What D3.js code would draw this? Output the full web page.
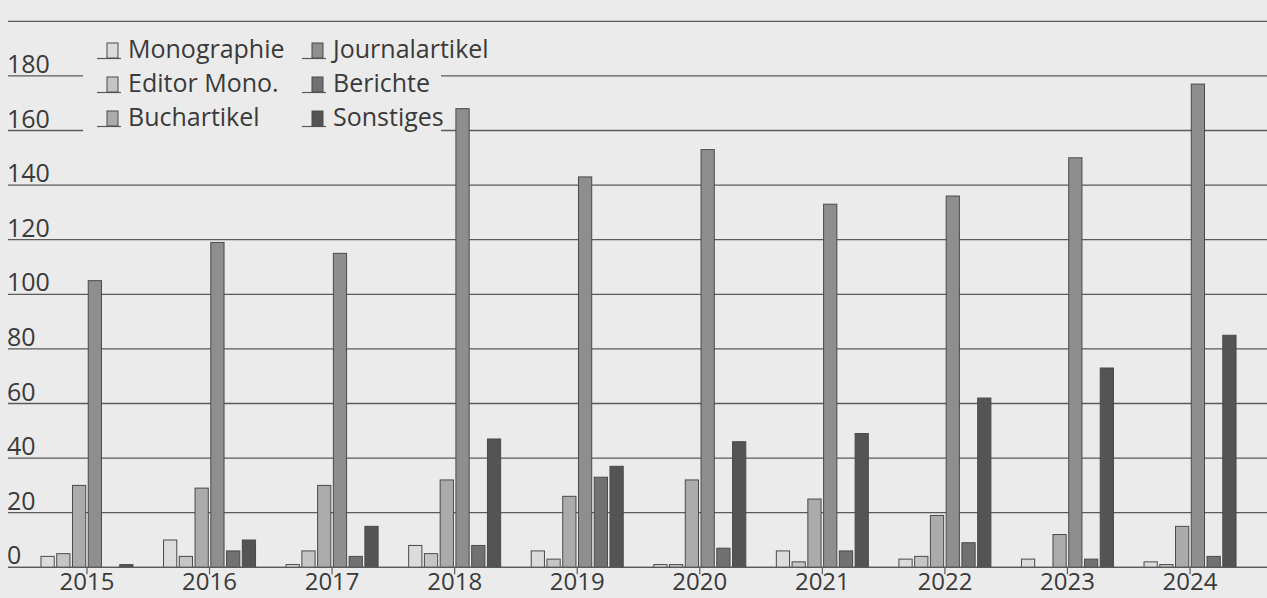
<!DOCTYPE html>
<html>
<head>
<meta charset="utf-8">
<script src="https://cdn.jsdelivr.net/npm/d3@7"></script>
<style>
  body { margin: 0; background: #ebebeb; }
  text { font-family: "Open Sans", sans-serif; fill: #3a3a3a; }
</style>
</head>
<body>
<div id="graphic"></div>
<script>
// Publication counts per year and type
var years = ['2015', '2016', '2017', '2018', '2019', '2020', '2021', '2022', '2023', '2024'];
var seriesNames = ['Monographie', 'Editor Mono.', 'Buchartikel', 'Journalartikel', 'Berichte', 'Sonstiges'];

var monographie = [4, 10, 1, 8, 6, 1, 6, 3, 3, 2];
var editorMono = [5, 4, 6, 5, 3, 1, 2, 4, 0, 1];
var buchartikel = [30, 29, 30, 32, 26, 32, 25, 19, 12, 15];
var journalartikel = [105, 119, 115, 168, 143, 153, 133, 136, 150, 177];
var berichte = [0, 6, 4, 8, 33, 7, 6, 9, 3, 4];
var sonstiges = [1, 10, 15, 47, 37, 46, 49, 62, 73, 85];

var yTicks = [0, 20, 40, 60, 80, 100, 120, 140, 160, 180, 200];
var yLabels = [0, 20, 40, 60, 80, 100, 120, 140, 160, 180];

var seriesValues = [monographie, editorMono, buchartikel, journalartikel, berichte, sonstiges];
var colors = ['#dcdcdc', '#c5c5c5', '#ababab', '#8e8e8e', '#717171', '#545454'];

var svgWidth = 1267;
var svgHeight = 598;

var svg = d3.select("#graphic")
    .append("svg")
    .attr("width", svgWidth)
    .attr("height", svgHeight)
    .style("display", "block");

svg.append("rect")
    .attr("width", svgWidth)
    .attr("height", svgHeight)
    .attr("fill", "#ebebeb");

// scales
var y = d3.scaleLinear().domain([0, 200]).range([567.3, 21.3]);
var x0 = d3.scaleBand().domain(years).range([25.7, 1251.3]).padding(0);
var x1 = d3.scaleBand().domain(seriesNames).range([-46, 46]).paddingInner(0.16);

// gridlines
svg.append("g")
    .selectAll("line")
    .data(yTicks)
    .enter()
    .append("line")
    .attr("x1", 8)
    .attr("x2", svgWidth)
    .attr("y1", function(d) { return y(d); })
    .attr("y2", function(d) { return y(d); })
    .attr("stroke", "#5a5a5a")
    .attr("stroke-width", 1.3);

// y labels sit on top of the lines
svg.append("g")
    .selectAll("text")
    .data(yLabels)
    .enter()
    .append("text")
    .attr("x", 7)
    .attr("y", function(d) { return y(d) - 3; })
    .style("font-size", "25px")
    .text(function(d) { return d; });

// legend box hides the gridlines behind it
var legend = svg.append("g");
legend.append("rect")
    .attr("x", 83)
    .attr("y", 34)
    .attr("width", 358)
    .attr("height", 108)
    .attr("fill", "#ebebeb");

var legendX = [97, 302];
var legendY = [58, 92, 126];

var items = legend.selectAll("g.item")
    .data(seriesNames)
    .enter()
    .append("g")
    .attr("class", "item")
    .attr("transform", function(d, i) {
        return "translate(" + legendX[Math.floor(i / 3)] + "," + legendY[i % 3] + ")";
    });

items.append("line")
    .attr("x1", 0)
    .attr("x2", 24)
    .attr("y1", 0.5)
    .attr("y2", 0.5)
    .attr("stroke", "#5a5a5a")
    .attr("stroke-width", 1.2);

items.append("rect")
    .attr("x", 10)
    .attr("y", -15)
    .attr("width", 11)
    .attr("height", 15)
    .attr("fill", function(d, i) { return colors[i]; })
    .attr("stroke", "#4a4a4a")
    .attr("stroke-width", 1);

items.append("text")
    .attr("x", 31)
    .attr("y", 0)
    .style("font-size", "25px")
    .text(function(d) { return d; });

// bars
var groups = svg.append("g")
    .selectAll("g")
    .data(years)
    .enter()
    .append("g")
    .attr("transform", function(d) { return "translate(" + (x0(d) + x0.bandwidth() / 2) + ",0)"; });

groups.selectAll("rect")
    .data(function(d, yi) {
        return seriesNames.map(function(s, si) { return { name: s, index: si, value: seriesValues[si][yi] }; });
    })
    .enter()
    .filter(function(d) { return d.value > 0; })
    .append("rect")
    .attr("x", function(d) { return x1(d.name); })
    .attr("y", function(d) { return y(d.value); })
    .attr("width", x1.bandwidth())
    .attr("height", function(d) { return y(0) - y(d.value); })
    .attr("fill", function(d) { return colors[d.index]; })
    .attr("stroke", "#4a4a4a")
    .attr("stroke-width", 1);

// x axis line, ticks and year labels
svg.append("line")
    .attr("x1", 8)
    .attr("x2", svgWidth)
    .attr("y1", y(0))
    .attr("y2", y(0))
    .attr("stroke", "#5a5a5a")
    .attr("stroke-width", 1.3);

groups.append("line")
    .attr("x1", 0)
    .attr("x2", 0)
    .attr("y1", y(0))
    .attr("y2", y(0) + 7)
    .attr("stroke", "#5a5a5a")
    .attr("stroke-width", 1.2);

groups.append("text")
    .attr("x", 0)
    .attr("y", 590)
    .style("font-size", "24px")
    .style("text-anchor", "middle")
    .text(function(d) { return d; });
</script>
</body>
</html>
